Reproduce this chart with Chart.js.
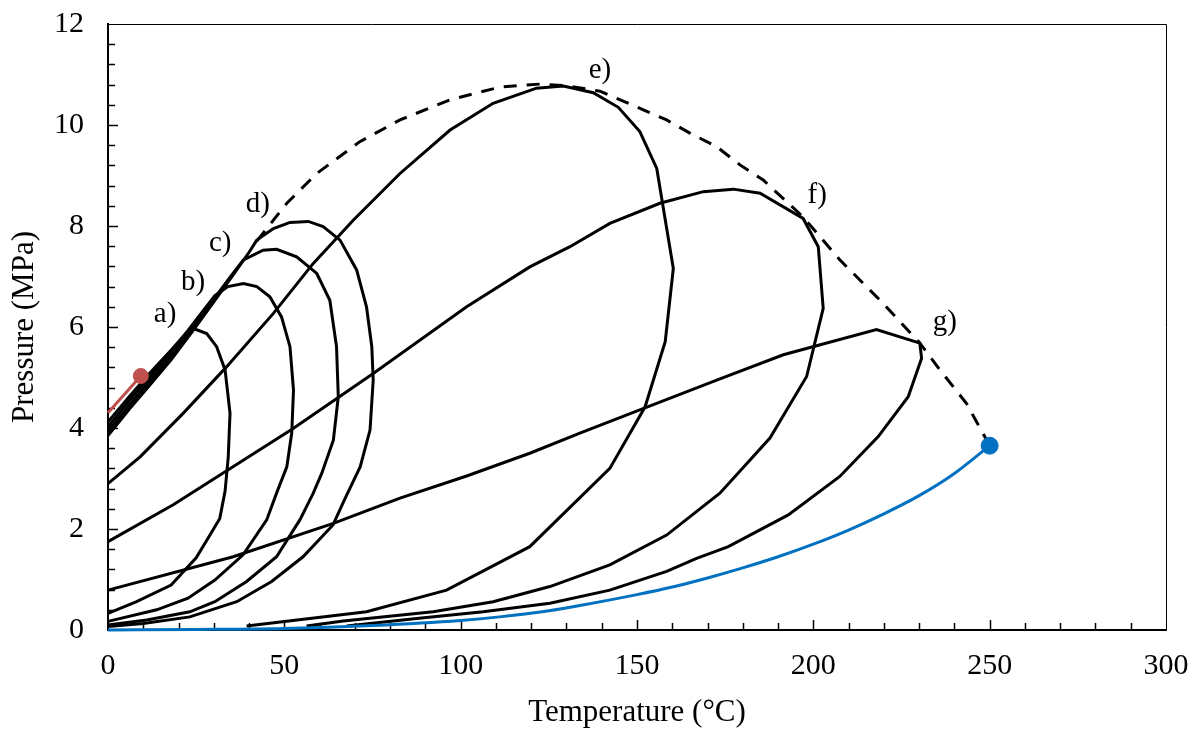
<!DOCTYPE html>
<html><head><meta charset="utf-8">
<script src="https://cdn.jsdelivr.net/npm/chart.js@4"></script>
<style>html,body{margin:0;padding:0;background:#fff}canvas{display:block}</style>
</head><body>
<canvas id="c" width="1194" height="729"></canvas>
<script>
// ---- data (Temperature °C, Pressure MPa) ----
const xTickLabels = [0, 50, 100, 150, 200, 250, 300];
const yTickLabels = [0, 2, 4, 6, 8, 10, 12];

const curveA = [[0,4.12],[6,4.62],[12,5.1],[18,5.55],[22,5.87],[24.2,5.97],[28,5.87],[30.8,5.61],[33.2,5.15],[34.6,4.29],[34.1,3.43],[33.2,2.75],[31.7,2.21],[28.4,1.82],[25,1.43],[17.9,0.89],[8.1,0.56],[0,0.33]];
const curveB = [[0,4.02],[6,4.54],[12,5.02],[18,5.5],[24,6.05],[30.3,6.62],[34,6.8],[38.4,6.86],[42.2,6.8],[45.9,6.6],[49.2,6.2],[51.6,5.61],[52.6,4.75],[52.1,3.9],[50.7,3.23],[47.8,2.71],[45,2.18],[38.3,1.49],[30.3,0.99],[22.7,0.63],[13.8,0.4],[0,0.17]];
const curveC = [[0,3.93],[6,4.45],[12,4.94],[18,5.42],[24,5.98],[30,6.55],[35,7.02],[38.4,7.33],[44,7.52],[47.8,7.54],[53.5,7.39],[59.2,7.06],[62.9,6.53],[64.8,5.61],[65.3,4.62],[63.9,3.76],[60.6,3.1],[58.2,2.71],[54.4,2.18],[47.8,1.45],[39.3,0.96],[30.3,0.56],[23.2,0.36],[11,0.2],[0,0.1]];
const curveD = [[0,3.85],[6,4.37],[12,4.86],[18,5.36],[24,5.92],[30,6.5],[36,7.08],[40,7.48],[42.2,7.72],[46.9,7.95],[51.6,8.07],[56.8,8.09],[61,7.99],[65.8,7.72],[70.5,7.13],[73.3,6.4],[74.8,5.61],[75.2,4.95],[74.3,3.96],[71.5,3.23],[67.2,2.6],[63.8,2.08],[55.3,1.45],[46.4,0.96],[36.5,0.56],[23.2,0.26],[10,0.13],[0,0.07]];
const curveE = [[0,2.9],[9.1,3.43],[21.3,4.29],[33.6,5.21],[46.9,6.27],[58.2,7.26],[69.6,8.12],[82.8,9.04],[97,9.9],[109.2,10.43],[121.5,10.73],[129.1,10.77],[137.6,10.64],[144.7,10.35],[150.8,9.87],[155.6,9.14],[160.3,7.16],[158,5.71],[152.3,4.42],[142.3,3.2],[119.6,1.65],[96,0.79],[73.3,0.36],[39.3,0.08]];
const curveF = [[0,1.75],[18.5,2.48],[52.5,3.99],[75.2,5.08],[101.7,6.4],[119.6,7.19],[131,7.59],[142.3,8.05],[156.5,8.45],[168.8,8.68],[177.3,8.73],[184.9,8.65],[197.1,8.15],[201.4,7.59],[202.8,6.37],[198.1,5.02],[187.7,3.8],[173.5,2.71],[158.4,1.88],[142.3,1.29],[125.3,0.86],[109.2,0.56],[92.2,0.36],[66.7,0.18],[56.3,0.08]];
const curveG = [[0,0.79],[35.5,1.45],[63.9,2.11],[82.8,2.61],[101.7,3.05],[119.6,3.5],[133.8,3.9],[150.8,4.36],[172.6,4.95],[191.5,5.45],[217.9,5.95],[230.2,5.68],[230.7,5.38],[226.9,4.62],[218.4,3.83],[207.5,3.04],[192.9,2.28],[175.9,1.65],[166.9,1.42],[158.4,1.16],[142.3,0.79],[125.3,0.53],[106.4,0.36],[87.5,0.23],[67.7,0.08]];
const criticalLocus = [[42.2,7.7],[45,7.95],[50.7,8.45],[59.2,9.04],[71.4,9.67],[82.8,10.1],[97,10.5],[111.1,10.75],[122.5,10.81],[130,10.78],[139.5,10.67],[151.8,10.3],[158.4,10.1],[165,9.84],[172.6,9.57],[179.2,9.21],[185.8,8.91],[197.1,8.18],[207.5,7.33],[218.9,6.53],[230,5.7],[235.9,5.15],[243.4,4.49],[250,3.65]];
const heavyVapour = [[0,0],[25,0.01],[50,0.03],[75,0.09],[100,0.19],[111,0.26],[125,0.38],[135,0.5],[150,0.7],[160,0.85],[170,1.03],[180,1.23],[190,1.45],[200,1.7],[210,1.98],[220,2.3],[230,2.66],[240,3.1],[250,3.65]];
const heavyCritical = [[250,3.65]];
const lightVapour = [[0,4.3],[9.3,5.03]];
const lightCritical = [[9.3,5.03]];
const curveLabels = ['a)','b)','c)','d)','e)','f)','g)'];
const labelT = [16.2, 24.1, 31.8, 42.5, 139.5, 201.1, 237.3];
const labelP = [6.24, 6.89, 7.66, 8.42, 11.08, 8.61, 6.1];

// ---- rendering ----
const FONT = '"Liberation Serif", "Times New Roman", serif';
const pts = a => a.map(p => ({x: p[0], y: p[1]}));
const black = (arr) => ({data: pts(arr), borderColor:'#000', borderWidth:3, pointRadius:0, showLine:true, tension:0, clip:false});

const axisDecor = {
  id: 'axisDecor',
  beforeDatasetsDraw(chart) {
    const {ctx, chartArea: a, scales: {x, y}} = chart;
    ctx.save();
    ctx.strokeStyle = '#000';
    ctx.lineWidth = 1;
    ctx.beginPath();
    ctx.moveTo(a.left, a.top + 0.5); ctx.lineTo(a.right + 0.5, a.top + 0.5); ctx.lineTo(a.right + 0.5, a.bottom);
    ctx.stroke();
    ctx.lineWidth = 1.5;
    ctx.beginPath();
    for (let v = 10; v < 300; v += 10) {
      const px = Math.round(x.getPixelForValue(v)) + 0.5;
      const len = (v % 50 === 0) ? 10 : 7;
      ctx.moveTo(px, a.bottom); ctx.lineTo(px, a.bottom - len);
    }
    for (let k = 1; k < 30; k++) {
      const v = k * 0.4;
      const py = Math.round(y.getPixelForValue(v)) + 0.5;
      const len = (k % 5 === 0) ? 10 : 7;
      ctx.moveTo(a.left, py); ctx.lineTo(a.left + len, py);
    }
    ctx.stroke();
    ctx.restore();
  },
  afterDraw(chart) {
    const {ctx, scales: {x, y}} = chart;
    ctx.save();
    ctx.fillStyle = '#000';
    ctx.font = '29px ' + FONT;
    ctx.textAlign = 'center';
    ctx.textBaseline = 'middle';
    curveLabels.forEach((t, i) => ctx.fillText(t, x.getPixelForValue(labelT[i]), y.getPixelForValue(labelP[i])));
    ctx.restore();
  }
};

new Chart(document.getElementById('c'), {
  type: 'scatter',
  data: {
    datasets: [
      {data: pts(heavyVapour), borderColor:'#0070C0', borderWidth:3, pointRadius:0, showLine:true, tension:0.4, cubicInterpolationMode:'monotone', clip:false},
      {data: pts(heavyCritical), backgroundColor:'#0070C0', borderColor:'#0070C0', pointRadius:8.5, showLine:false, clip:false},
      {data: pts(lightVapour), borderColor:'#C0504D', borderWidth:3, pointRadius:0, showLine:true, tension:0, clip:false},
      {data: pts(lightCritical), backgroundColor:'#C0504D', borderColor:'#C0504D', pointRadius:7.5, showLine:false, clip:false},
      black(curveA), black(curveB), black(curveC), black(curveD),
      black(curveE), black(curveF), black(curveG),
      Object.assign(black(criticalLocus), {borderDash:[13,10]})
    ]
  },
  options: {
    responsive: false,
    animation: false,
    layout: {padding: {top: 24, right: 28, left: 0, bottom: 0}},
    plugins: {legend: {display: false}, tooltip: {enabled: false}},
    scales: {
      x: {
        type: 'linear', min: 0, max: 300,
        afterFit: s => { s.height = 99; s.paddingLeft = 0; s.paddingRight = 0; },
        afterBuildTicks: s => { s.ticks = xTickLabels.map(v => ({value: v})); },
        ticks: {color: '#000', font: {family: FONT, size: 30}, padding: 18, maxRotation: 0},
        grid: {display: true, drawOnChartArea: false, drawTicks: false},
        border: {color: '#000', width: 2},
        title: {display: true, text: 'Temperature (°C)', color: '#000', font: {family: FONT, size: 31}, padding: {top: 0, bottom: -2}}
      },
      y: {
        type: 'linear', min: 0, max: 12,
        afterFit: s => { s.width = 108; s.paddingTop = 0; s.paddingBottom = 0; },
        afterBuildTicks: s => { s.ticks = yTickLabels.map(v => ({value: v})); },
        ticks: {color: '#000', font: {family: FONT, size: 30}, padding: 24},
        grid: {display: true, drawOnChartArea: false, drawTicks: false},
        border: {color: '#000', width: 2},
        title: {display: true, text: 'Pressure (MPa)', color: '#000', font: {family: FONT, size: 31}, padding: {top: 6, bottom: 0}}
      }
    }
  },
  plugins: [axisDecor]
});
</script>
</body></html>
